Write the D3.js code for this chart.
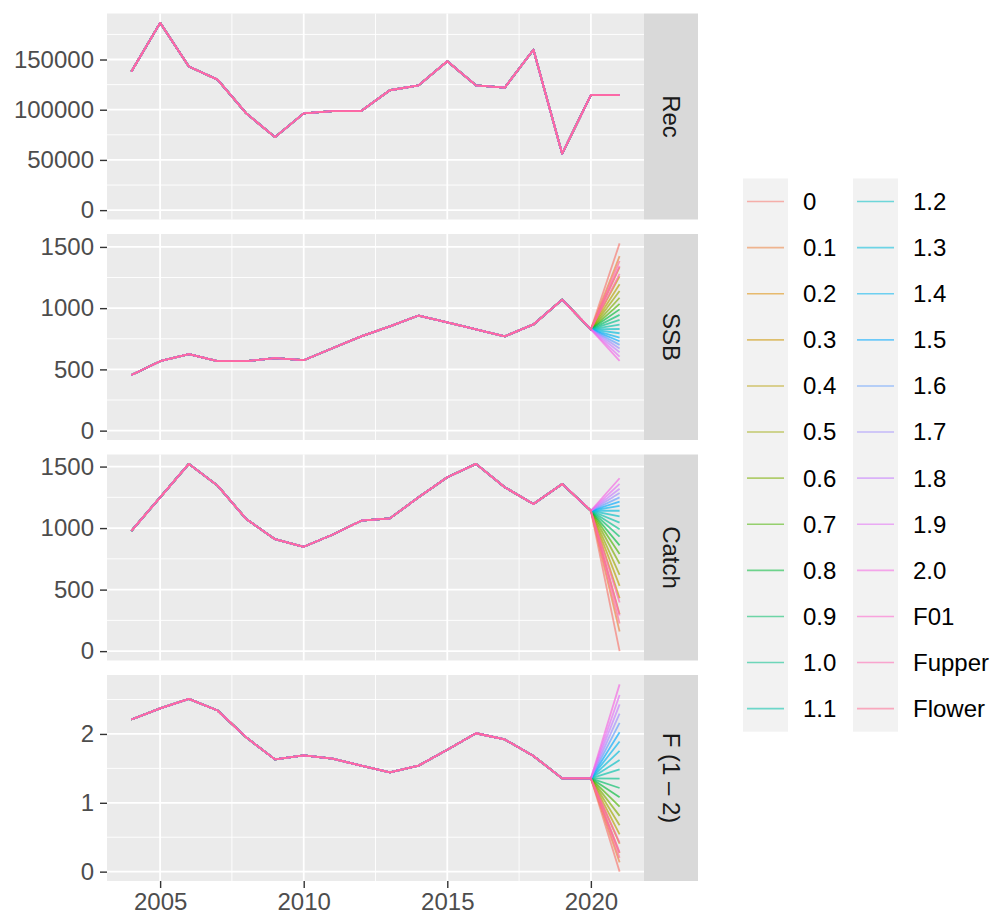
<!DOCTYPE html>
<html>
<head>
<meta charset="utf-8">
<script src="https://cdn.jsdelivr.net/npm/d3@7"></script>
<style>
  body { margin: 0; background: #fff; }
  text { font-family: "Liberation Sans", Arial, sans-serif; }
</style>
</head>
<body>
<div id="plotContainer"></div>
<script>
// ---- data ----
const histYears = [2004, 2005, 2006, 2007, 2008, 2009, 2010, 2011, 2012, 2013, 2014, 2015, 2016, 2017, 2018, 2019, 2020];
const projYear = 2021;

const recHist = [138000, 186500, 143000, 130000, 96400, 72700, 96400, 98700, 98700, 119400, 124300, 148300, 124300, 122000, 159800, 56200, 114500];
const ssbHist = [454, 567, 624, 567, 567, 592, 575, 673, 770, 851, 940, 883, 827, 770, 867, 1070, 827];
const catchHist = [978, 1250, 1522, 1345, 1073, 910, 848, 946, 1060, 1079, 1250, 1413, 1522, 1332, 1196, 1359, 1141];
const fHist = [2.21, 2.37, 2.51, 2.34, 1.95, 1.63, 1.69, 1.64, 1.54, 1.44, 1.54, 1.77, 2.01, 1.92, 1.68, 1.355, 1.355];

// F scenarios (legend order)
const scenarios = ["0", "0.1", "0.2", "0.3", "0.4", "0.5", "0.6", "0.7", "0.8", "0.9", "1.0", "1.1",
                   "1.2", "1.3", "1.4", "1.5", "1.6", "1.7", "1.8", "1.9", "2.0", "F01", "Fupper", "Flower"];

// 2021 values for each scenario, same order as above
const rec2021 = [114500, 114500, 114500, 114500, 114500, 114500, 114500, 114500, 114500, 114500, 114500, 114500,
                 114500, 114500, 114500, 114500, 114500, 114500, 114500, 114500, 114500, 114500, 114500, 114500];
const ssb2021 = [1529, 1425, 1335, 1260, 1195, 1140, 1085, 1035, 990, 945, 905, 865,
                 830, 795, 760, 730, 700, 670, 640, 605, 570, 1345, 1280, 1385];
const catch2021 = [0, 160, 300, 430, 530, 620, 710, 790, 860, 930, 990, 1045,
                   1095, 1141, 1180, 1215, 1250, 1285, 1320, 1360, 1405, 290, 395, 225];
const f2021 = [0, 0.135, 0.27, 0.405, 0.54, 0.675, 0.81, 0.945, 1.08, 1.215, 1.35, 1.485,
               1.62, 1.755, 1.89, 2.025, 2.16, 2.295, 2.43, 2.565, 2.72, 0.28, 0.42, 0.2];

const facetLabels = ["Rec", "SSB", "Catch", "F (1 \u2013 2)"];

// ---- R's hcl() (polar Luv) -> hex, as ggplot's hue palette uses ----
function hclR(h, c, l) {
  const rad = h * Math.PI / 180;
  const U = c * Math.cos(rad), V = c * Math.sin(rad);
  const Xn = 95.047, Yn = 100, Zn = 108.883;
  const Y = l > 8 ? Yn * Math.pow((l + 16) / 116, 3) : Yn * l / 903.3;
  const den = Xn + 15 * Yn + 3 * Zn;
  const un = 4 * Xn / den, vn = 9 * Yn / den;
  const u = U / (13 * l) + un, v = V / (13 * l) + vn;
  const X = 9 * Y * u / (4 * v);
  const Z = -X / 3 - 5 * Y + 3 * Y / v;
  const x = X / 100, y = Y / 100, z = Z / 100;
  const lin = [
    3.240479 * x - 1.537150 * y - 0.498535 * z,
    -0.969256 * x + 1.875992 * y + 0.041556 * z,
    0.055648 * x - 0.204043 * y + 1.057311 * z
  ];
  const g = lin.map(t => {
    t = t <= 0.0031308 ? 12.92 * t : 1.055 * Math.pow(t, 1 / 2.4) - 0.055;
    return Math.round(Math.max(0, Math.min(1, t)) * 255);
  });
  return d3.rgb(g[0], g[1], g[2]).formatHex();
}
const hues = scenarios.map((s, i) => 15 + i * 360 / scenarios.length);
const color = d3.scaleOrdinal().domain(scenarios).range(hues.map(h => hclR(h, 100, 65)));
const lineAlpha = 0.65, keyAlpha = 0.55;

// ---- layout ----
const svgWidth = 995, svgHeight = 920;
const panelLeft = 107, panelRight = 644, stripW = 54;
const panelTop = 13.5, panelH = 206, panelGap = 14.5;
const fontSize = 24;

const svg = d3.select("#plotContainer").append("svg")
  .attr("width", svgWidth)
  .attr("height", svgHeight)
  .style("background", "#fff");

const xPad = (projYear - histYears[0]) * 0.05;
const x = d3.scaleLinear()
  .domain([histYears[0] - xPad, projYear + xPad])
  .range([panelLeft, panelRight]);
const xMajor = x.ticks(4);
const xMinor = [];
for (let i = 0; i < xMajor.length - 1; i++) xMinor.push((xMajor[i] + xMajor[i + 1]) / 2);
xMinor.push(xMajor[0] - 2.5, xMajor[xMajor.length - 1] + 2.5);

const facets = [
  { hist: recHist, proj: rec2021 },
  { hist: ssbHist, proj: ssb2021 },
  { hist: catchHist, proj: catch2021 },
  { hist: fHist, proj: f2021 }
];

const line = d3.line();

facets.forEach((f, k) => {
  const top = panelTop + k * (panelH + panelGap);
  const bottom = top + panelH;
  const maxV = d3.max(f.hist.concat(f.proj));
  const minV = 0; // y axes are expanded to include 0
  const yPad = (maxV - minV) * 0.05;
  const y = d3.scaleLinear().domain([minV - yPad, maxV + yPad]).range([bottom, top]);
  const yMajor = y.ticks(4);
  const step = yMajor[1] - yMajor[0];
  const yMinor = [];
  for (let i = 0; i < yMajor.length - 1; i++) yMinor.push((yMajor[i] + yMajor[i + 1]) / 2);
  yMinor.push(yMajor[0] - step / 2, yMajor[yMajor.length - 1] + step / 2);
  const dom = y.domain();

  const g = svg.append("g");
  g.append("rect")
    .attr("x", panelLeft).attr("y", top)
    .attr("width", panelRight - panelLeft).attr("height", panelH)
    .attr("fill", "#EBEBEB");

  // grid lines
  g.selectAll(".ymin").data(yMinor.filter(v => v > dom[0] && v < dom[1])).enter().append("line")
    .attr("x1", panelLeft).attr("x2", panelRight)
    .attr("y1", d => y(d)).attr("y2", d => y(d))
    .attr("stroke", "#fff").attr("stroke-width", 0.9);
  g.selectAll(".xmin").data(xMinor.filter(v => v > x.domain()[0] && v < x.domain()[1])).enter().append("line")
    .attr("x1", d => x(d)).attr("x2", d => x(d))
    .attr("y1", top).attr("y2", bottom)
    .attr("stroke", "#fff").attr("stroke-width", 0.9);
  g.selectAll(".ymaj").data(yMajor).enter().append("line")
    .attr("x1", panelLeft).attr("x2", panelRight)
    .attr("y1", d => y(d)).attr("y2", d => y(d))
    .attr("stroke", "#fff").attr("stroke-width", 1.8);
  g.selectAll(".xmaj").data(xMajor).enter().append("line")
    .attr("x1", d => x(d)).attr("x2", d => x(d))
    .attr("y1", top).attr("y2", bottom)
    .attr("stroke", "#fff").attr("stroke-width", 1.8);

  // one line per scenario, drawn in level order like ggplot does
  scenarios.forEach((s, i) => {
    const pts = f.hist.map((v, j) => [x(histYears[j]), y(v)]);
    pts.push([x(projYear), y(f.proj[i])]);
    g.append("path")
      .attr("d", line(pts))
      .attr("fill", "none")
      .attr("stroke", color(s))
      .attr("stroke-opacity", lineAlpha)
      .attr("stroke-width", 1.8)
      .attr("stroke-linejoin", "round");
  });

  // y axis
  const yAxis = d3.axisLeft(y).tickValues(yMajor).tickSize(7).tickPadding(6).tickFormat(d => String(d));
  const ax = svg.append("g").attr("transform", "translate(" + panelLeft + ",0)").call(yAxis);
  ax.select(".domain").remove();
  ax.selectAll(".tick line").attr("stroke", "#333").attr("stroke-width", 1.4);
  ax.selectAll(".tick text").attr("fill", "#4D4D4D").style("font-size", fontSize + "px");

  // strip on the right
  svg.append("rect")
    .attr("x", panelRight).attr("y", top)
    .attr("width", stripW).attr("height", panelH)
    .attr("fill", "#D9D9D9");
  svg.append("text")
    .attr("transform", "translate(" + (panelRight + stripW / 2) + "," + (top + panelH / 2) + ") rotate(90)")
    .attr("text-anchor", "middle")
    .attr("dy", "0.35em")
    .attr("fill", "#1A1A1A")
    .style("font-size", fontSize + "px")
    .text(facetLabels[k]);

  if (k === facets.length - 1) {
    const xAxis = d3.axisBottom(x).tickValues(xMajor).tickSize(7).tickPadding(5).tickFormat(d3.format("d"));
    const bx = svg.append("g").attr("transform", "translate(0," + bottom + ")").call(xAxis);
    bx.select(".domain").remove();
    bx.selectAll(".tick line").attr("stroke", "#333").attr("stroke-width", 1.4);
    bx.selectAll(".tick text").attr("fill", "#4D4D4D").style("font-size", fontSize + "px");
  }
});

// ---- legend: two columns of 12 ----
const legRows = 12, legTop = 178.5, legRowH = 46.1;
const legCols = [743, 853], keyW = 45;
const leg = svg.append("g");
legCols.forEach(cx => {
  leg.append("rect")
    .attr("x", cx).attr("y", legTop)
    .attr("width", keyW).attr("height", legRows * legRowH)
    .attr("fill", "#F2F2F2");
});
const item = leg.selectAll(".item").data(scenarios).enter().append("g")
  .attr("transform", (d, i) => "translate(" + legCols[Math.floor(i / legRows)] + "," +
    (legTop + (i % legRows + 0.5) * legRowH) + ")");
item.append("line")
  .attr("x1", 4).attr("x2", keyW - 4)
  .attr("stroke", d => color(d))
  .attr("stroke-opacity", keyAlpha)
  .attr("stroke-width", 1.6);
item.append("text")
  .attr("x", 60)
  .attr("dy", "0.35em")
  .attr("fill", "#000")
  .style("font-size", fontSize + "px")
  .text(d => d);
</script>
</body>
</html>
